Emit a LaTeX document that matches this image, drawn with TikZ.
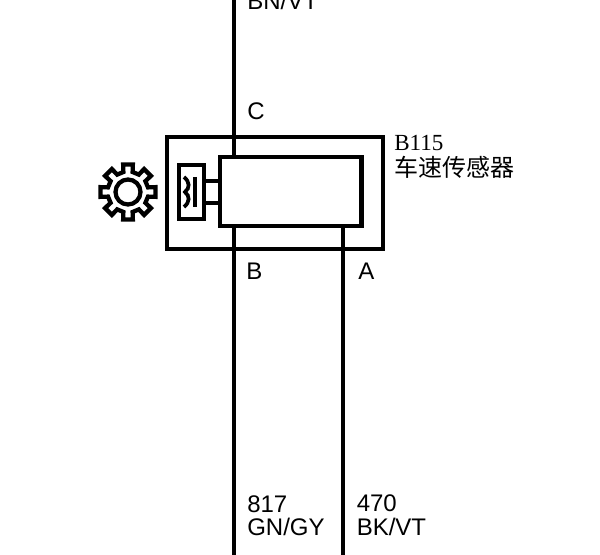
\documentclass[tikz,border=0pt]{standalone}
\usepackage{fontspec}
\setmainfont{Liberation Sans}
\newfontfamily\serifname{Liberation Serif}
\newfontfamily\cjkname{Noto Sans CJK SC}
\tikzset{
    boxline/.style={draw,line width=3.6pt,inner sep=0,outer sep=0,anchor=north west},
    wire/.style={line width=3.6pt},
    wirelabel/.style={anchor=west,inner sep=0,font=\fontsize{18}{20}\selectfont},
}
\begin{document}
\begin{tikzpicture}[x=0.75pt,y=-0.75pt]
    \useasboundingbox (0,0) rectangle (600,555);
    \node [boxline,minimum width=162pt,minimum height=84pt] (outer) at (167,137) {};
    \node [boxline,minimum width=106pt,minimum height=51.75pt] (inner) at (220,157) {};
    \node [boxline,line width=3.4pt,minimum width=18.75pt,minimum height=40.5pt] (sensor) at (179,165) {};
    \coordinate (wireC) at (234,-5);
    \coordinate (wireB) at (234,560);
    \coordinate (wireA) at (343,560);
    \coordinate (stubtop) at (212,181);
    \coordinate (stubbot) at (212,203);
    \draw [wire] (wireC) -- (wireC |- inner.north);
    \draw [wire] (wireB) -- (wireB |- inner.south);
    \draw [wire] (wireA) -- (wireA |- inner.south);
    \draw [line width=3pt] (sensor.east |- stubtop) -- (inner.west |- stubtop);
    \draw [line width=3pt] (sensor.east |- stubbot) -- (inner.west |- stubbot);
    \draw [line width=3.4pt] (195,177) -- (195,207);
    \draw [line width=2.8pt] (184,177) .. controls (190,182) and (190,188) .. (185,192) .. controls (190,196) and (190,202) .. (184,207);
    \begin{scope}[shift={(128,192)}]
        \draw [line width=3.2pt,line join=miter] (-10:28)
            \foreach \a in {0,45,...,315} {
                -- (\a-10:28) -- (\a+10:28) -- (\a+13:20.5) -- (\a+32:20.5)
            } -- cycle;
        \draw [line width=3.2pt] (0,0) circle [radius=12.5];
    \end{scope}
    \node [wirelabel] (labelC) at (247,111) {C};
    \node [wirelabel] (labelB) at (246,271) {B};
    \node [wirelabel] (labelA) at (358,271) {A};
    \node [wirelabel] (labelBN) at (247,1) {BN/VT};
    \node [wirelabel] (num817) at (247,504) {817};
    \node [wirelabel] (colGN) at (247,527) {GN/GY};
    \node [wirelabel] (num470) at (356.5,503) {470};
    \node [wirelabel] (colBK) at (356.5,527) {BK/VT};
    \node [anchor=west,inner sep=0,font=\serifname\fontsize{17.3}{20}\selectfont] (code) at (394,143) {B115};
    \node [anchor=west,inner sep=0,font=\cjkname\fontsize{18}{20}\selectfont] (name) at (394,167) {车速传感器};
\end{tikzpicture}
\end{document}
